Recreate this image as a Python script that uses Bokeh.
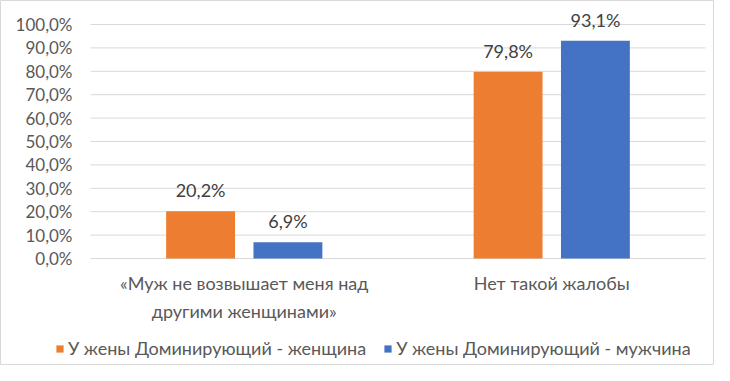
from bokeh.plotting import figure
from bokeh.models import ColumnDataSource, Legend, LegendItem, Range1d
from bokeh.transform import dodge
from bokeh.core.properties import value
from bokeh.embed import file_html
from bokeh.resources import INLINE

categories = ["«Муж не возвышает меня над\nдругими женщинами»", "Нет такой жалобы"]
series_names = ["У жены Доминирующий - женщина", "У жены Доминирующий - мужчина"]
women = [20.2, 79.8]
men = [6.9, 93.1]
y_ticks = [0, 10, 20, 30, 40, 50, 60, 70, 80, 90, 100]
y_tick_labels = ["0,0%", "10,0%", "20,0%", "30,0%", "40,0%", "50,0%", "60,0%", "70,0%", "80,0%", "90,0%", "100,0%"]

FONT = "Lato"
FS = "18px"
TXT = "#595959"
ORANGE = "#ED7D31"
BLUE = "#4472C4"
GRID = "#d9d9d9"

W, H = 714, 365
# plot-area geometry in figure pixels
LEFT, RIGHT, TOP, BOTTOM = 90, 705, 24, 258
n = len(categories)
ppx = (RIGHT - LEFT) / n
ppy = (BOTTOM - TOP) / 100.0
x_range = Range1d(-LEFT / ppx, n + (W - RIGHT) / ppx)
y_range = Range1d(-(H - BOTTOM) / ppy, 100 + TOP / ppy)

xs = [i + 0.5 for i in range(n)]
src = ColumnDataSource(dict(
    x=xs, women=women, men=men, cat=categories,
    wl=[f"{v:.1f}%".replace(".", ",") for v in women],
    ml=[f"{v:.1f}%".replace(".", ",") for v in men],
))
tick_src = ColumnDataSource(dict(y=y_ticks, lab=y_tick_labels,
                                 x0=[0] * len(y_ticks), x1=[n] * len(y_ticks)))

p = figure(width=W, height=H, output_backend="svg", toolbar_location=None,
           x_range=x_range, y_range=y_range,
           x_axis_location=None, y_axis_location=None,
           min_border=0)
p.xgrid.visible = False
p.ygrid.visible = False
p.outline_line_color = GRID
p.background_fill_color = "white"
p.border_fill_color = "white"

# gridlines
p.segment(x0="x0", x1="x1", y0="y", y1="y", source=tick_src, line_color=GRID, line_width=1)
# y tick labels
p.text(x=0, y="y", text="lab", source=tick_src, x_offset=-18,
       text_align="right", text_baseline="middle",
       text_font=value(FONT), text_font_size="17px", text_color=TXT)

r1 = p.vbar(x=dodge("x", -0.142, range=p.x_range), top="women", width=0.224, source=src,
            fill_color=ORANGE, line_color=None)
r2 = p.vbar(x=dodge("x", 0.142, range=p.x_range), top="men", width=0.224, source=src,
            fill_color=BLUE, line_color=None)

for col, lab, off in (("women", "wl", -0.142), ("men", "ml", 0.142)):
    p.text(x=dodge("x", off, range=p.x_range), y=col, text=lab, source=src,
           text_align="center", text_baseline="bottom", y_offset=-10,
           text_font=value(FONT), text_font_size=FS, text_color="#404040")

# category labels
p.text(x="x", y=0, text="cat", source=src, y_offset=13,
       text_align="center", text_baseline="top", text_line_height=1.3,
       text_font=value(FONT), text_font_size=FS, text_color=TXT)

legend = Legend(items=[LegendItem(label=series_names[0], renderers=[r1]),
                       LegendItem(label=series_names[1], renderers=[r2])],
                orientation="horizontal", location=(55, 6),
                label_text_font=FONT, label_text_font_size=FS, label_text_color=TXT,
                glyph_width=9, glyph_height=9, spacing=17, label_standoff=4,
                border_line_color=None, background_fill_alpha=0, margin=0, padding=0)
p.add_layout(legend, "center")

open("out.html", "w").write(file_html(p, INLINE))
